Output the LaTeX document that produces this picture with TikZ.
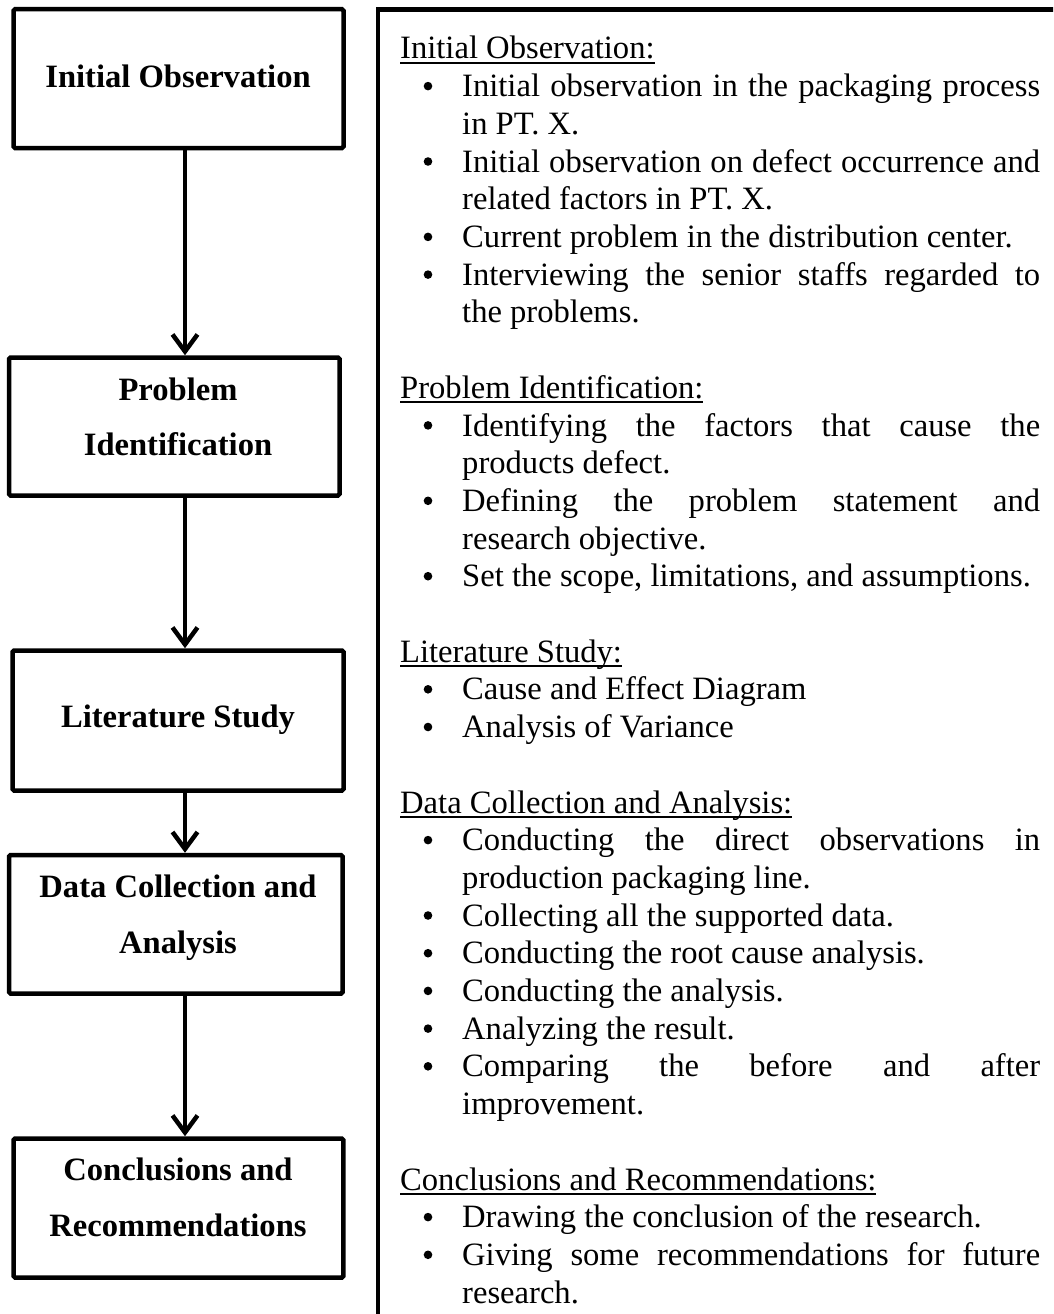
\documentclass[tikz,border=0pt]{standalone}
\usepackage{fontspec}
\setmainfont{Liberation Serif}
\usetikzlibrary{arrows.meta}

% body size used for every text in the chart
\newcommand{\fs}{\fontsize{32.6}{37.7}\selectfont}
% a justified line of the bullet column
\newcommand{\jl}[1]{\makebox[578pt][s]{#1}}
% heading with a word-processor style underline
\newcommand{\hul}[1]{{\setbox0\hbox{#1}\rlap{\rule[-5pt]{\wd0}{1.9pt}}\box0}}

\begin{document}
\begin{tikzpicture}[x=1pt,y=-1pt,
  stagebox/.style={draw, line width=4.5pt, rounded corners=1.5pt, inner sep=0pt},
  label/.style={anchor=base, inner sep=0pt, font=\fs\bfseries},
  txt/.style={anchor=base west, inner sep=0pt, font=\fs},
  bul/.style={circle, fill, inner sep=0pt, minimum size=8.6pt, yshift=10.6pt},
  arr/.style={line width=4.5pt, -{Straight Barb[length=17pt,width=25pt]}},
  frame/.style={line width=4.5pt}]

\useasboundingbox (0,0) rectangle (1053,1314);
\clip (0,0) rectangle (1053,1314);

% ---- stage boxes on the left ----
\node[stagebox, minimum width=330pt,   minimum height=138.8pt] (b1) at (178.5,78.6)  {};
\node[stagebox, minimum width=330.5pt, minimum height=138pt]   (b2) at (174.3,426.5) {};
\node[stagebox, minimum width=331pt,   minimum height=140pt]   (b3) at (178,720.5)   {};
\node[stagebox, minimum width=333.5pt, minimum height=138.5pt] (b4) at (175.8,924.3) {};
\node[stagebox, minimum width=329.8pt, minimum height=139pt]   (b5) at (178.4,1208)  {};

\node[label] (t1)  at (178,87)   {Initial Observation};
\node[label] (t2a) at (178,400)  {Problem};
\node[label] (t2b) at (178,455)  {Identification};
\node[label] (t3)  at (178,727)  {Literature Study};
\node[label] (t4a) at (178,897)  {Data Collection and};
\node[label] (t4b) at (178,953)  {Analysis};
\node[label] (t5a) at (178,1180) {Conclusions and};
\node[label] (t5b) at (178,1236) {Recommendations};

% ---- flow arrows ----
\coordinate (ax) at (185,0);
\draw[arr] (b1.south -| ax) -- (b2.north -| ax);
\draw[arr] (b2.south -| ax) -- (b3.north -| ax);
\draw[arr] (b3.south -| ax) -- (b4.north -| ax);
\draw[arr] (b4.south -| ax) -- (b5.north -| ax);

% ---- description panel on the right ----
\draw[frame] (1090,9.3) -- (378,9.3) -- (378,1340);

% Initial Observation
\node[txt] (h1) at (400,59) {\hul{Initial Observation:}};
\node[bul] (p11) at (428,96.7) {};
\node[txt] (l11) at (462,96.7) {\jl{Initial observation in the packaging process}};
\node[txt] (l12) at (462,134.4) {in PT. X.};
\node[bul] (p12) at (428,172.1) {};
\node[txt] (l13) at (462,172.1) {\jl{Initial observation on defect occurrence and}};
\node[txt] (l14) at (462,209.8) {related factors in PT. X.};
\node[bul] (p13) at (428,247.5) {};
\node[txt] (l15) at (462,247.5) {Current problem in the distribution center.};
\node[bul] (p14) at (428,285.2) {};
\node[txt] (l16) at (462,285.2) {\jl{Interviewing the senior staffs regarded to}};
\node[txt] (l17) at (462,322.9) {the problems.};

% Problem Identification
\node[txt] (h2) at (400,398.3) {\hul{Problem Identification:}};
\node[bul] (p21) at (428,436) {};
\node[txt] (l21) at (462,436) {\jl{Identifying the factors that cause the}};
\node[txt] (l22) at (462,473.7) {products defect.};
\node[bul] (p22) at (428,511.4) {};
\node[txt] (l23) at (462,511.4) {\jl{Defining the problem statement and}};
\node[txt] (l24) at (462,549.1) {research objective.};
\node[bul] (p23) at (428,586.8) {};
\node[txt] (l25) at (462,586.8) {Set the scope, limitations, and assumptions.};

% Literature Study
\node[txt] (h3) at (400,662.2) {\hul{Literature Study:}};
\node[bul] (p31) at (428,699.9) {};
\node[txt] (l31) at (462,699.9) {Cause and Effect Diagram};
\node[bul] (p32) at (428,737.6) {};
\node[txt] (l32) at (462,737.6) {Analysis of Variance};

% Data Collection and Analysis
\node[txt] (h4) at (400,813) {\hul{Data Collection and Analysis:}};
\node[bul] (p41) at (428,850.7) {};
\node[txt] (l41) at (462,850.7) {\jl{Conducting the direct observations in}};
\node[txt] (l42) at (462,888.4) {production packaging line.};
\node[bul] (p42) at (428,926.1) {};
\node[txt] (l43) at (462,926.1) {Collecting all the supported data.};
\node[bul] (p43) at (428,963.8) {};
\node[txt] (l44) at (462,963.8) {Conducting the root cause analysis.};
\node[bul] (p44) at (428,1001.5) {};
\node[txt] (l45) at (462,1001.5) {Conducting the analysis.};
\node[bul] (p45) at (428,1039.2) {};
\node[txt] (l46) at (462,1039.2) {Analyzing the result.};
\node[bul] (p46) at (428,1076.9) {};
\node[txt] (l47) at (462,1076.9) {\jl{Comparing the before and after}};
\node[txt] (l48) at (462,1114.6) {improvement.};

% Conclusions and Recommendations
\node[txt] (h5) at (400,1190) {\hul{Conclusions and Recommendations:}};
\node[bul] (p51) at (428,1227.7) {};
\node[txt] (l51) at (462,1227.7) {Drawing the conclusion of the research.};
\node[bul] (p52) at (428,1265.4) {};
\node[txt] (l52) at (462,1265.4) {\jl{Giving some recommendations for future}};
\node[txt] (l53) at (462,1303.1) {research.};
\end{tikzpicture}
\end{document}
